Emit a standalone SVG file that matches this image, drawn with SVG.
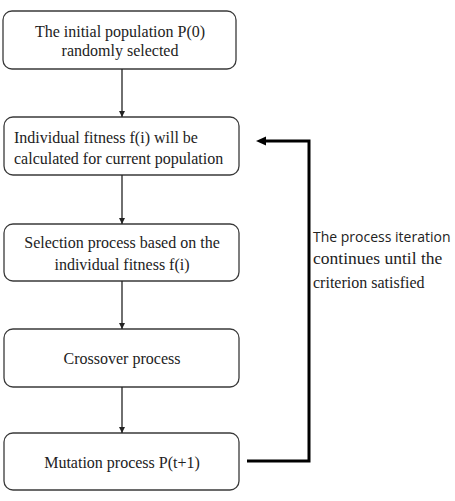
<svg xmlns="http://www.w3.org/2000/svg" width="455" height="501" viewBox="0 0 455 501">
<defs>
<style>
.box{fill:#fff;stroke:#3a3a3a;stroke-width:1.3}
.t{font-family:'Liberation Serif','Times New Roman',Times,serif;font-size:16px;fill:#222}
.c{stroke:#222;stroke-width:1.3;fill:none}
.fb{stroke:#000;stroke-width:3;fill:none}
</style>
<marker id="ah" viewBox="0 0 10 10" refX="10" refY="5" markerWidth="6" markerHeight="6" orient="auto" markerUnits="userSpaceOnUse"><path d="M0,0 L10,5 L0,10 z" fill="#222"/></marker>
</defs>
<g id="n1"><rect class="box" x="3" y="11" width="233" height="58" rx="9"/>
<text class="t" x="120" y="37" text-anchor="middle">The initial population P(0)</text>
<text class="t" x="120" y="56" text-anchor="middle">randomly selected</text></g>
<g id="n2"><rect class="box" x="4" y="117" width="235" height="58" rx="9"/>
<text class="t" x="14" y="143">Individual fitness f(i) will be</text>
<text class="t" x="14" y="164">calculated for current population</text></g>
<g id="n3"><rect class="box" x="4" y="224" width="235" height="57" rx="9"/>
<text class="t" x="122" y="248" text-anchor="middle">Selection process based on the</text>
<text class="t" x="122" y="270" text-anchor="middle">individual fitness f(i)</text></g>
<g id="n4"><rect class="box" x="4" y="329" width="235" height="58" rx="9"/>
<text class="t" x="122" y="364" text-anchor="middle">Crossover process</text></g>
<g id="n5"><rect class="box" x="4" y="433" width="235" height="57" rx="9"/>
<text class="t" x="122" y="468" text-anchor="middle">Mutation process P(t+1)</text></g>
<g id="connectors">
<line class="c" x1="122" y1="69" x2="122" y2="117" marker-end="url(#ah)"/>
<line class="c" x1="122" y1="175" x2="122" y2="224" marker-end="url(#ah)"/>
<line class="c" x1="122" y1="281" x2="122" y2="329" marker-end="url(#ah)"/>
<line class="c" x1="122" y1="387" x2="122" y2="433" marker-end="url(#ah)"/>
<polyline class="fb" points="247,461 309,461 309,141 262,141"/>
<path d="M256,141 L266,136.5 L266,145.5 z" fill="#000"/>
</g>
<g id="label">
<text x="313" y="242" style="font-family:'Open Sans','Liberation Sans',sans-serif;font-size:14px;fill:#222">The process iteration</text>
<text class="t" x="313" y="264" style="font-size:17.5px">continues until the</text>
<text class="t" x="313" y="288" style="font-size:16px">criterion satisfied</text>
</g>
</svg>
